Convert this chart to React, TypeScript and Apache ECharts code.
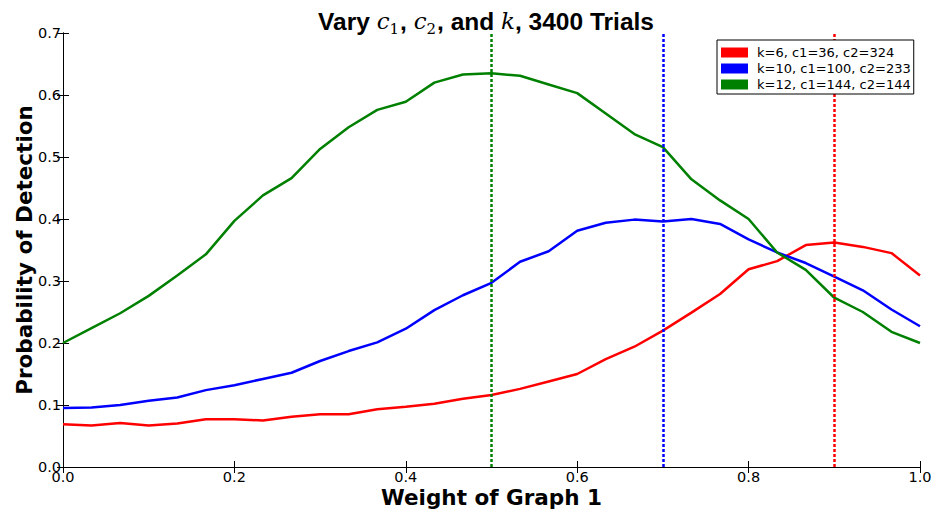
import React, { useEffect, useRef } from "react";
import * as echarts from "echarts";

const weights = [
  0, 0.0333, 0.0667, 0.1, 0.1333, 0.1667, 0.2, 0.2333, 0.2667, 0.3, 0.3333,
  0.3667, 0.4, 0.4333, 0.4667, 0.5, 0.5333, 0.5667, 0.6, 0.6333, 0.6667, 0.7,
  0.7333, 0.7667, 0.8, 0.8333, 0.8667, 0.9, 0.9333, 0.9667, 1.0,
];

const redValues = [
  0.069, 0.067, 0.071, 0.067, 0.07, 0.077, 0.077, 0.075, 0.081, 0.085, 0.085,
  0.093, 0.097, 0.102, 0.11, 0.116, 0.126, 0.138, 0.15, 0.174, 0.194, 0.22,
  0.249, 0.279, 0.319, 0.332, 0.358, 0.362, 0.355, 0.345, 0.309,
];

const blueValues = [
  0.095, 0.096, 0.1, 0.107, 0.112, 0.124, 0.132, 0.142, 0.152, 0.171, 0.187,
  0.201, 0.223, 0.253, 0.277, 0.297, 0.331, 0.348, 0.381, 0.394, 0.399, 0.396,
  0.4, 0.392, 0.367, 0.346, 0.329, 0.307, 0.285, 0.254, 0.227,
];

const greenValues = [
  0.2, 0.224, 0.248, 0.276, 0.309, 0.343, 0.397, 0.438, 0.466, 0.513, 0.548,
  0.576, 0.589, 0.62, 0.633, 0.635, 0.631, 0.617, 0.603, 0.57, 0.537, 0.516,
  0.464, 0.43, 0.4, 0.346, 0.318, 0.273, 0.25, 0.218, 0.2,
];

const seriesNames = ["k=6, c1=36, c2=324", "k=10, c1=100, c2=233", "k=12, c1=144, c2=144"];
const seriesColors = ["#ff0000", "#0000ff", "#008000"];
const markerWeights = [0.9, 0.7, 0.5];
const allValues = [redValues, blueValues, greenValues];

const xTickLabels = ["0.0", "0.2", "0.4", "0.6", "0.8", "1.0"];

export default function App() {
  const ref = useRef<HTMLDivElement>(null);
  useEffect(() => {
    document.body.style.margin = "0";
    const chart = echarts.init(ref.current!, null, { renderer: "svg" });
    const tickFont = { fontFamily: "DejaVu Sans", fontSize: 14.5, color: "#000", lineHeight: 14 };
    const axisLine = { show: true, lineStyle: { color: "#000", width: 1 } };
    const tick = { show: true, inside: true, length: 6, lineStyle: { color: "#000" } };
    const series: any[] = allValues.map((vals, k) => ({
      name: seriesNames[k],
      type: "line",
      data: weights.map((w, i) => [w, vals[i]]),
      symbol: "none",
      lineStyle: { color: seriesColors[k], width: 2.5 },
      itemStyle: { color: seriesColors[k] },
      z: 3,
      markLine: {
        silent: true,
        symbol: "none",
        label: { show: false },
        lineStyle: { color: seriesColors[k], type: [3, 2], width: 2.5 },
        data: [{ xAxis: markerWeights[k] }],
      },
    }));
    chart.setOption({
      animation: false,
      title: {
        text:
          "{b|Vary }{m|c}{s|1}{b|, }{m|c}{s|2}{b|, and }{m|k}{b|, 3400 Trials}",
        left: 481,
        textAlign: "center",
        top: 2,
        textStyle: {
          fontWeight: "normal",
          rich: {
            b: { fontFamily: "Liberation Sans", fontWeight: "bold", fontSize: 24.5, color: "#000", lineHeight: 28 },
            m: { fontFamily: "DejaVu Serif", fontStyle: "italic", fontWeight: "normal", fontSize: 23, color: "#000", lineHeight: 28 },
            s: { fontFamily: "DejaVu Serif", fontWeight: "normal", fontSize: 15, color: "#000", lineHeight: 28, padding: [16, 1, 0, 0] },
          },
        },
      },
      legend: {
        left: 717,
        top: 40,
        z: 20,
        orient: "vertical",
        icon: "rect",
        itemWidth: 27,
        itemHeight: 10,
        itemGap: 3,
        padding: [6, 3, 3, 4],
        borderColor: "#000",
        borderWidth: 1,
        backgroundColor: "#fff",
        textStyle: { fontFamily: "DejaVu Sans", fontSize: 13, color: "#000", lineHeight: 13, padding: [0, 0, 0, 4] },
        data: seriesNames,
      },
      grid: { left: 63, right: 14, top: 33, bottom: 47, outerBoundsMode: "none" },
      xAxis: [
        {
          type: "value",
          min: 0,
          max: 1,
          interval: 0.2,
          axisLine,
          axisTick: tick,
          splitLine: { show: false },
          axisLabel: {
            ...tickFont,
            margin: 3,
            formatter: (v: number) => xTickLabels[Math.round(v / 0.2)] ?? v.toFixed(1),
          },
          name: "Weight of Graph 1",
          nameLocation: "middle",
          nameMoveOverlap: false,
          nameGap: 19,
          nameTextStyle: { fontFamily: "DejaVu Sans", fontWeight: "bold", fontSize: 21.5, color: "#000", lineHeight: 22, verticalAlign: "top" },
        },
        {
          type: "value",
          position: "top",
          min: 0,
          max: 1,
          interval: 0.2,
          axisLine,
          axisTick: tick,
          splitLine: { show: false },
          axisLabel: { show: false },
        },
      ],
      yAxis: [
        {
          type: "value",
          min: 0,
          max: 0.7,
          interval: 0.1,
          axisLine,
          axisTick: tick,
          splitLine: { show: false },
          axisLabel: { ...tickFont, margin: 2, formatter: (v: number) => v.toFixed(1) },
          name: "Probability of Detection",
          nameLocation: "middle",
          nameMoveOverlap: false,
          nameGap: 28,
          nameTextStyle: { fontFamily: "DejaVu Sans", fontWeight: "bold", fontSize: 21.5, color: "#000", verticalAlign: "bottom" },
        },
        {
          type: "value",
          position: "right",
          min: 0,
          max: 0.7,
          interval: 0.1,
          axisLine,
          axisTick: tick,
          splitLine: { show: false },
          axisLabel: { show: false },
        },
      ],
      series,
    });
    return () => chart.dispose();
  }, []);
  return <div ref={ref} style={{ width: 934, height: 514 }} />;
}
